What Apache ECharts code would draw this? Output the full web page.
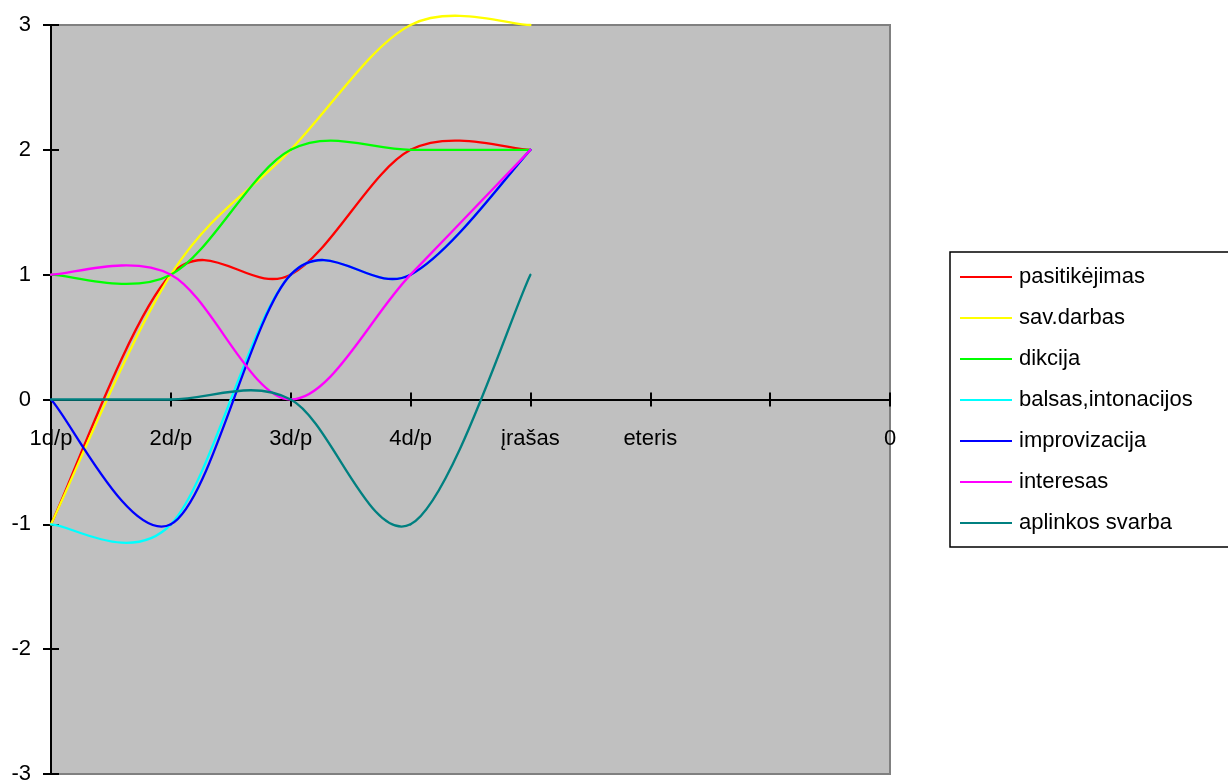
<!DOCTYPE html>
<html>
<head>
<meta charset="utf-8">
<script src="https://cdn.jsdelivr.net/npm/echarts@6/dist/echarts.min.js"></script>
<style>
html,body{margin:0;padding:0;background:#fff;}
#chart{width:1228px;height:780px;}
</style>
</head>
<body>
<div id="chart"></div>
<script>
const categories = ['1d/p', '2d/p', '3d/p', '4d/p', 'įrašas', 'eteris', '', '0'];
const pasitikejimas = [-1, 1, 1, 2, 2];
const savDarbas = [-1, 1, 2, 3, 3];
const dikcija = [1, 1, 2, 2, 2];
const balsasIntonacijos = [-1, -1, 1, 1, 2];
const improvizacija = [0, -1, 1, 1, 2];
const interesas = [1, 1, 0, 1, 2];
const aplinkosSvarba = [0, 0, 0, -1, 1];
const seriesNames = ['pasitikėjimas', 'sav.darbas', 'dikcija', 'balsas,intonacijos', 'improvizacija', 'interesas', 'aplinkos svarba'];
const seriesData = [pasitikejimas, savDarbas, dikcija, balsasIntonacijos, improvizacija, interesas, aplinkosSvarba];
const colors = ['#ff0000', '#ffff00', '#00ff00', '#00ffff', '#0000ff', '#ff00ff', '#008080'];

const FONT = "'Liberation Sans', Arial, sans-serif";

// Excel-style smoothed segment (cubic Bezier, tension 1/6) between data point i and i+1,
// positioned through the chart's own axes via api.coord.
function makeRenderItem(values, color) {
  return function (params, api) {
    const i = params.dataIndex;
    const n = values.length;
    if (i >= n - 1) return null;
    const p0 = api.coord([Math.max(i - 1, 0), values[Math.max(i - 1, 0)]]);
    const p1 = api.coord([i, values[i]]);
    const p2 = api.coord([i + 1, values[i + 1]]);
    const p3 = api.coord([Math.min(i + 2, n - 1), values[Math.min(i + 2, n - 1)]]);
    return {
      type: 'bezierCurve',
      shape: {
        x1: p1[0], y1: p1[1], x2: p2[0], y2: p2[1],
        cpx1: p1[0] + (p2[0] - p0[0]) / 6, cpy1: p1[1] + (p2[1] - p0[1]) / 6,
        cpx2: p2[0] - (p3[0] - p1[0]) / 6, cpy2: p2[1] - (p3[1] - p1[1]) / 6
      },
      style: { stroke: color, lineWidth: 2.3, fill: null, lineCap: 'round' }
    };
  };
}

const chart = echarts.init(document.getElementById('chart'));
chart.setOption({
  animation: false,
  backgroundColor: '#ffffff',
  grid: {
    left: 51, right: 338, top: 25, bottom: 6,
    outerBoundsMode: 'none', containLabel: false,
    show: true, backgroundColor: '#c0c0c0', borderColor: '#808080', borderWidth: 2
  },
  legend: {
    orient: 'vertical',
    left: 950, top: 252,
    data: seriesNames,
    icon: 'rect',
    backgroundColor: '#ffffff',
    borderColor: '#000000', borderWidth: 1.5,
    padding: [14, 50, 13, 10],
    itemWidth: 52, itemHeight: 2, itemGap: 19,
    itemStyle: { borderWidth: 0 },
    textStyle: { fontFamily: FONT, fontSize: 22, color: '#000', lineHeight: 22, padding: [0, 0, 0, 2] }
  },
  xAxis: [{
    type: 'category', data: categories, boundaryGap: false, position: 'bottom', offset: -374.5,
    axisLine: { onZero: false, lineStyle: { color: '#000', width: 2 } },
    axisTick: { show: true, inside: false, length: 7, lineStyle: { color: '#000', width: 2 } },
    axisLabel: { fontFamily: FONT, fontSize: 22, color: '#000', margin: 28, interval: 0 },
    splitLine: { show: false }
  }, {
    type: 'category', data: categories, boundaryGap: false, position: 'top', offset: -374.5,
    axisLine: { onZero: false, show: false },
    axisTick: { show: true, inside: false, length: 7, lineStyle: { color: '#000', width: 2 } },
    axisLabel: { show: false },
    splitLine: { show: false }
  }],
  yAxis: [{
    type: 'value', min: -3, max: 3, interval: 1, position: 'left',
    axisLine: { show: true, onZero: false, lineStyle: { color: '#000', width: 2 } },
    axisTick: { show: true, inside: false, length: 8, lineStyle: { color: '#000', width: 2 } },
    axisLabel: { fontFamily: FONT, fontSize: 22, color: '#000', margin: 20 },
    splitLine: { show: false }
  }, {
    type: 'value', min: -3, max: 3, interval: 1, position: 'right', offset: -839,
    axisLine: { show: false, onZero: false },
    axisTick: { show: true, inside: false, length: 8, lineStyle: { color: '#000', width: 2 } },
    axisLabel: { show: false },
    splitLine: { show: false }
  }],
  series: seriesNames.map((name, i) => ({
    name: name,
    type: 'custom',
    coordinateSystem: 'cartesian2d',
    xAxisIndex: 0, yAxisIndex: 0,
    clip: false,
    data: seriesData[i].map((v, k) => [k, v]),
    encode: { x: 0, y: 1 },
    itemStyle: { color: colors[i] },
    renderItem: makeRenderItem(seriesData[i], colors[i]),
    emphasis: { disabled: true },
    silent: true
  }))
});
</script>
</body>
</html>
